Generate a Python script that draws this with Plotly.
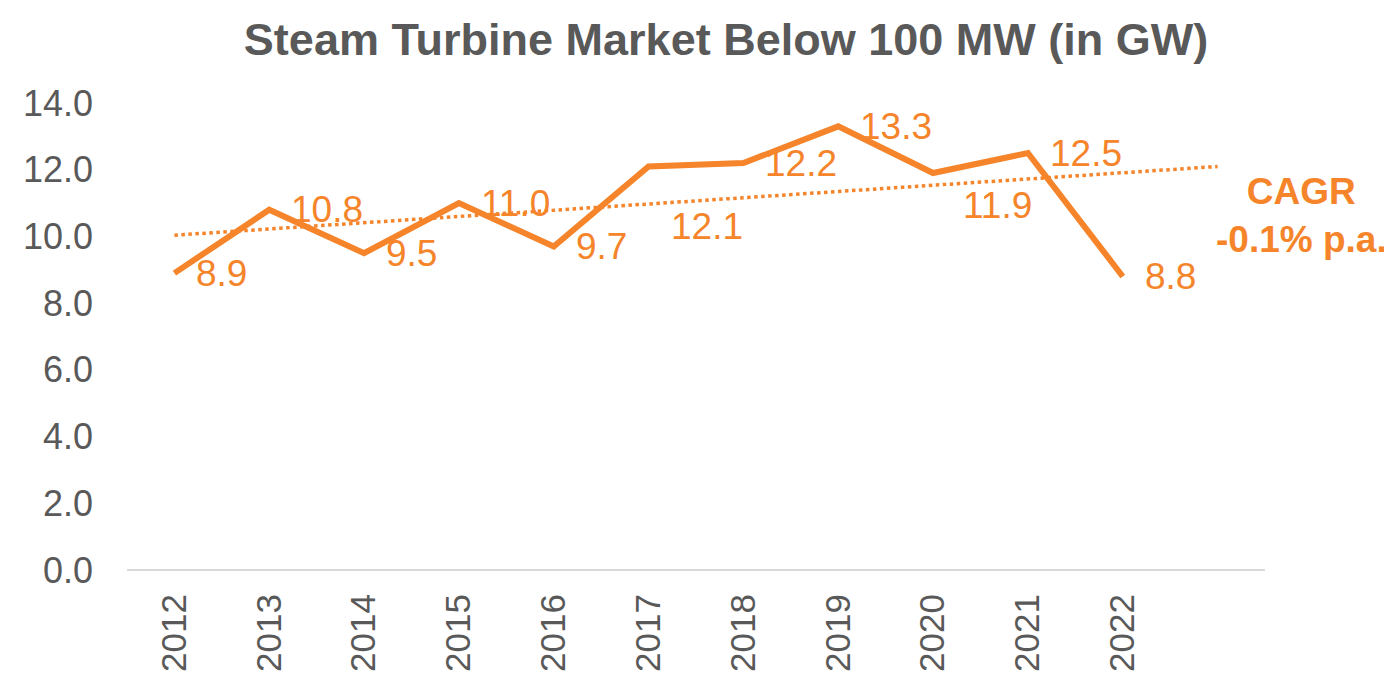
import numpy as np
import plotly.graph_objects as go

years = [2012, 2013, 2014, 2015, 2016, 2017, 2018, 2019, 2020, 2021, 2022]
market_gw = [8.9, 10.8, 9.5, 11.0, 9.7, 12.1, 12.2, 13.3, 11.9, 12.5, 8.8]
y_ticks = [0, 2, 4, 6, 8, 10, 12, 14]
title_text = "Steam Turbine Market Below 100 MW (in GW)"
cagr_text = "<b>CAGR<br>-0.1% p.a.</b>"

ORANGE = "#F5842A"
GRAY = "#595959"
FONT = "Liberation Sans, Arial, sans-serif"

# linear trendline (regression of the series) extended one period forward
idx = np.arange(len(years))
slope, intercept = np.polyfit(idx, market_gw, 1)
trend_x = [years[0], years[-1] + 1]
trend_y = [intercept, intercept + slope * len(years)]

fig = go.Figure()
fig.add_trace(go.Scatter(x=trend_x, y=trend_y, mode="lines",
                         line=dict(color=ORANGE, width=3.5, dash="dot"),
                         hoverinfo="skip", showlegend=False))
fig.add_trace(go.Scatter(x=years, y=market_gw, mode="lines",
                         line=dict(color=ORANGE, width=6),
                         showlegend=False))

# label offsets (pixels) to mimic manual label placement
shifts = {2017: (20, -60), 2020: (28, -32)}
for x, v in zip(years, market_gw):
    dx, dy = shifts.get(x, (20, 0))
    fig.add_annotation(x=x, y=v, text=f"{v:.1f}", showarrow=False,
                       xanchor="left", yanchor="middle", xshift=dx, yshift=dy,
                       font=dict(family=FONT, size=37, color=ORANGE))

fig.add_annotation(x=1.0, xref="paper", xanchor="center", xshift=36,
                   y=10.8, yref="y", yshift=-6, text=cagr_text, showarrow=False,
                   font=dict(family=FONT, size=37, color=ORANGE),
                   align="center")

fig.update_layout(
    width=1384, height=667,
    paper_bgcolor="white", plot_bgcolor="white",
    margin=dict(l=119, r=127, t=95, b=105, autoexpand=False),
    title=dict(text=f"<b>{title_text}</b>", x=0.5188, xanchor="center",
               y=0.953, yanchor="middle", yref="container", xref="container",
               font=dict(family=FONT, size=45, color=GRAY)),
    xaxis=dict(range=[2011.5, 2023.5], tickmode="array", tickvals=years,
               ticktext=[str(y) for y in years], tickangle=-90,
               showgrid=False, zeroline=False, showline=False,
               ticks="", ticklabelstandoff=16, automargin=False,
               tickfont=dict(family=FONT, size=35, color=GRAY)),
    yaxis=dict(range=[0, 14], tickmode="array", tickvals=y_ticks,
               ticktext=[f"{t:.1f}" for t in y_ticks],
               showgrid=False, zeroline=True, zerolinecolor="#D9D9D9",
               zerolinewidth=2, showline=False, ticks="",
               ticklabelstandoff=33, automargin=False,
               tickfont=dict(family=FONT, size=36, color=GRAY)),
)

fig.write_html("out.html")
